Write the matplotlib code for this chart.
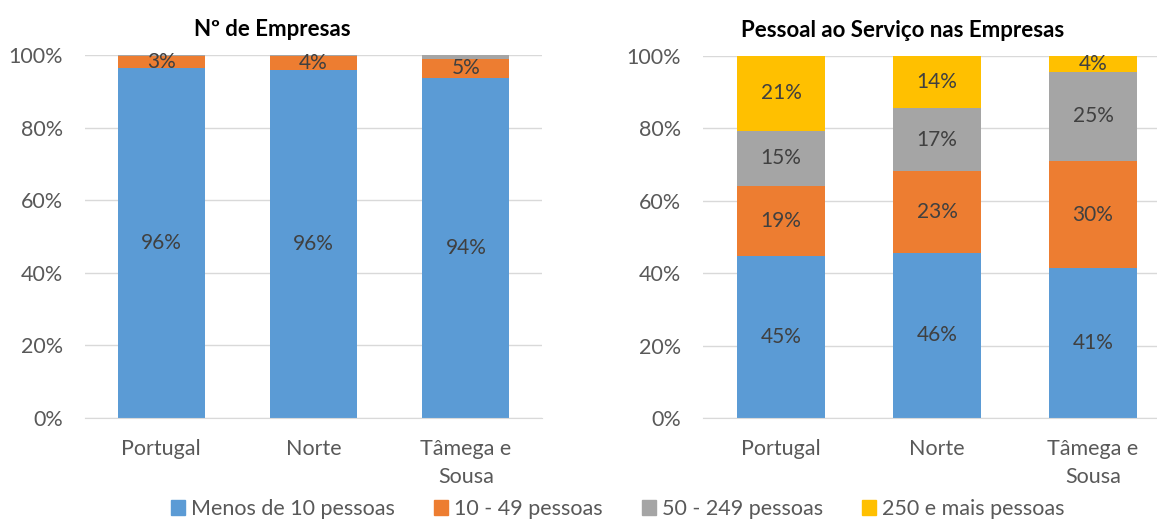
import numpy as np
import matplotlib.pyplot as plt
from matplotlib.patches import Patch

regions = ['Portugal', 'Norte', 'Tâmega e\nSousa']
series = ['Menos de 10 pessoas', '10 - 49 pessoas', '50 - 249 pessoas', '250 e mais pessoas']
colors = ['#5B9BD5', '#ED7D31', '#A5A5A5', '#FFC000']

# Nº de Empresas (%)
emp_micro = [96.4, 95.8, 93.7]
emp_small = [3.2, 3.8, 5.3]
emp_medium = [0.35, 0.35, 0.9]
emp_large = [0.05, 0.05, 0.1]

# Pessoal ao Serviço (%)
pes_micro = [44.8, 45.6, 41.4]
pes_small = [19.3, 22.6, 29.6]
pes_medium = [15.2, 17.4, 24.6]
pes_large = [20.7, 14.4, 4.4]

plt.rcParams['font.family'] = ['Lato', 'DejaVu Sans']
txt = '#595959'

fig = plt.figure(figsize=(11.57, 5.19), dpi=100)
ax1 = fig.add_axes([85 / 1157, 1 - 418 / 519, 457 / 1157, 363 / 519])
ax2 = fig.add_axes([703 / 1157, 1 - 418 / 519, 468 / 1157, 362 / 519])


def draw(ax, data, title, title_x, labelled):
    x = np.arange(len(regions))
    bottom = np.zeros(len(regions))
    for i, vals in enumerate(data):
        vals = np.array(vals)
        ax.bar(x, vals, 0.57, bottom=bottom, color=colors[i], zorder=2)
        if labelled[i]:
            for xi, b, v in zip(x, bottom, vals):
                ax.text(xi, b + v / 2, f'{v:.0f}%', ha='center', va='center',
                        fontsize=15, color='#404040', zorder=3)
        bottom += vals
    ax.set_xlim(-0.5, len(regions) - 0.5)
    ax.set_ylim(0, 100)
    ax.set_yticks(np.arange(0, 101, 20))
    ax.set_yticklabels([f'{t}%' for t in range(0, 101, 20)])
    ax.set_xticks(x)
    ax.set_xticklabels(regions, linespacing=1.5)
    ax.grid(axis='y', color='#D9D9D9', lw=1, zorder=0)
    for s in ['top', 'right', 'left']:
        ax.spines[s].set_visible(False)
    ax.spines['bottom'].set_color('#D9D9D9')
    ax.tick_params(length=0, labelsize=15.5, colors=txt)
    ax.tick_params(axis='x', pad=15)
    ax.tick_params(axis='y', pad=16)
    ax.set_title(title, fontsize=16, fontweight='bold', color='black', x=title_x, pad=14)


draw(ax1, [emp_micro, emp_small, emp_medium, emp_large], 'Nº de Empresas', 0.41,
     [True, True, False, False])
draw(ax2, [pes_micro, pes_small, pes_medium, pes_large], 'Pessoal ao Serviço nas Empresas', 0.427,
     [True, True, True, True])

handles = [Patch(color=c) for c in colors]
leg = fig.legend(handles, series, loc='center', bbox_to_anchor=(0.534, 1 - 509 / 519),
                 ncol=4, frameon=False, fontsize=15.5, handlelength=0.65, handleheight=0.65,
                 handletextpad=0.3, columnspacing=1.8, borderaxespad=0)
for t in leg.get_texts():
    t.set_color(txt)

fig.savefig('out.png', dpi=100)
